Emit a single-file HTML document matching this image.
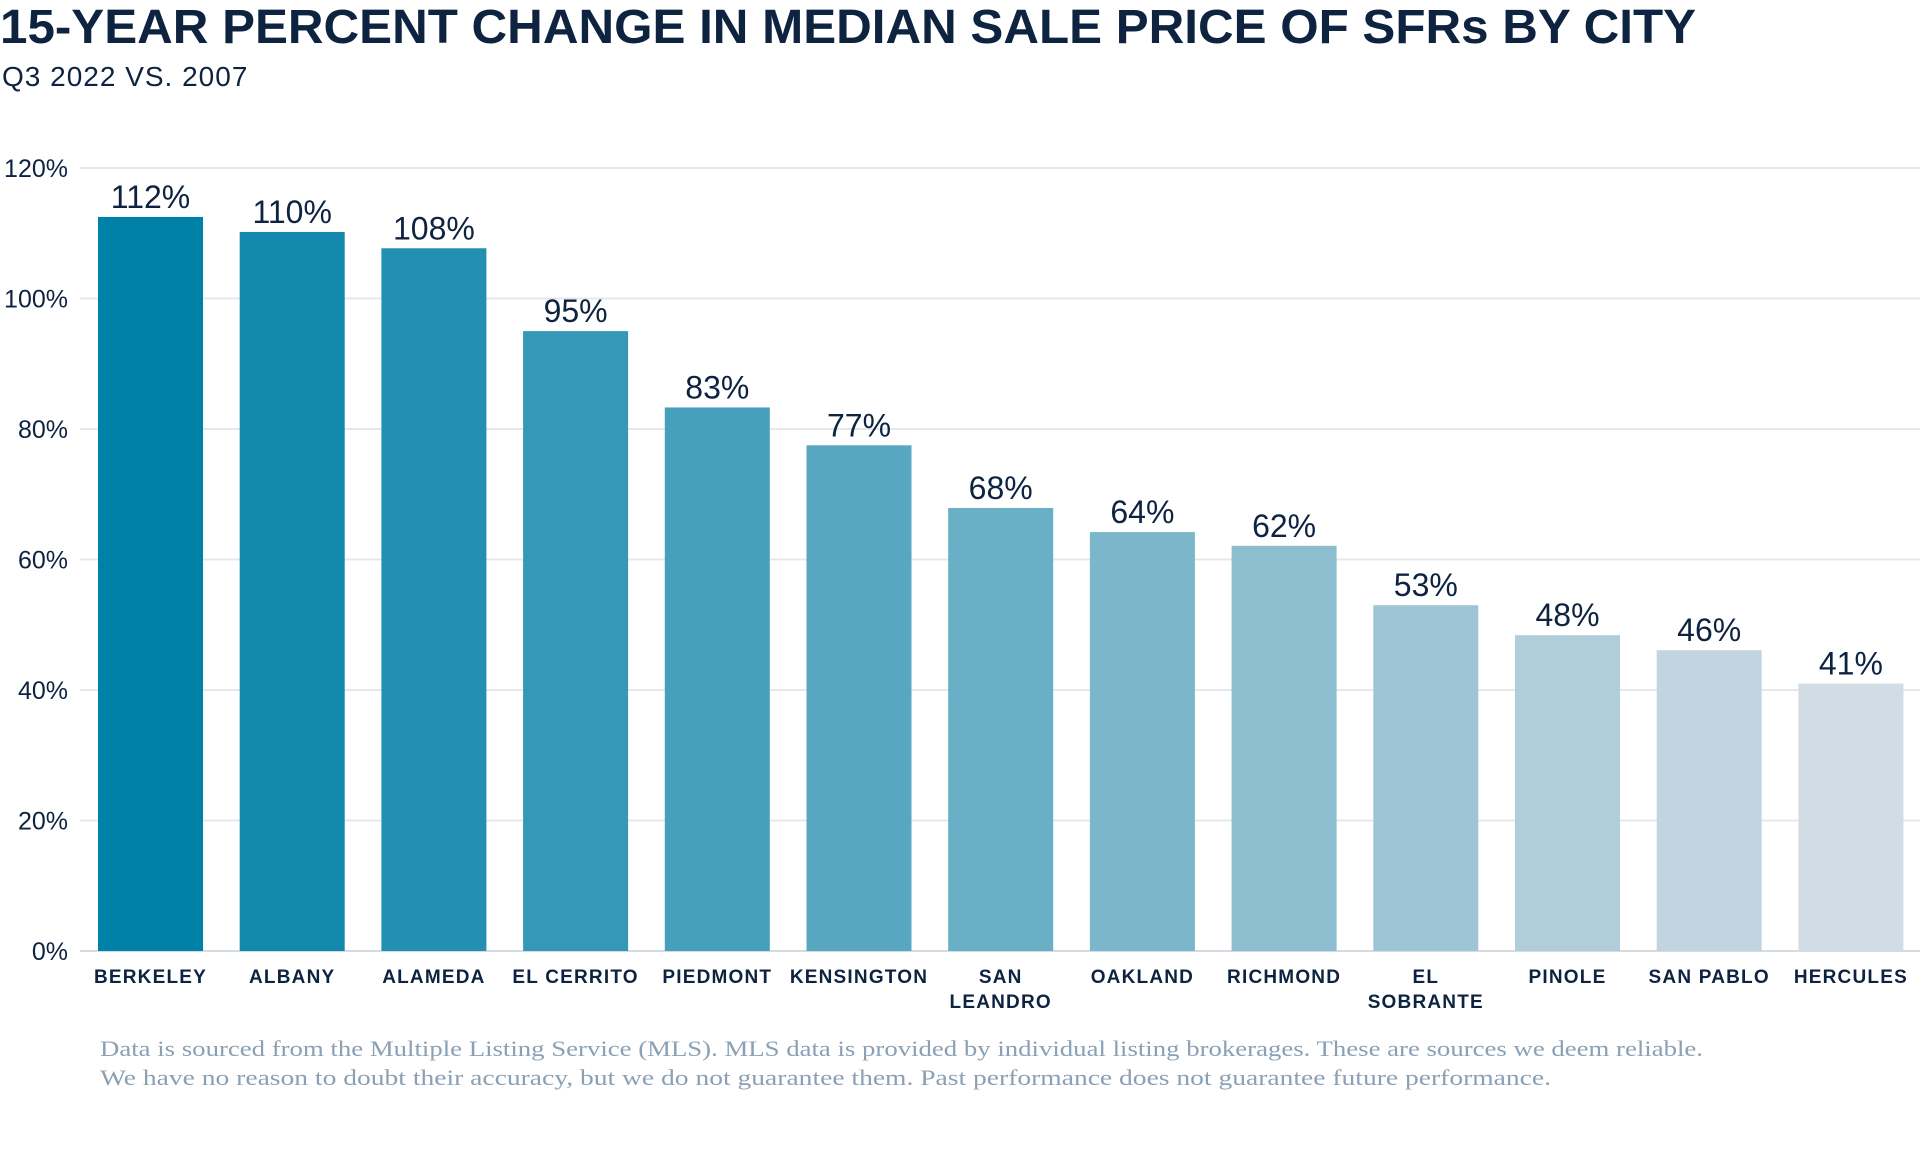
<!DOCTYPE html>
<html><head><meta charset="utf-8"><style>
body{margin:0;width:1920px;height:1148px;background:#fff;overflow:hidden;font-family:"Liberation Sans",sans-serif}
</style></head><body>
<svg id="chart" width="1920" height="1148" xmlns="http://www.w3.org/2000/svg">
<text x="0" y="43" font-family="Liberation Sans, sans-serif" font-size="48" font-weight="bold" fill="#0d2340" textLength="1696" lengthAdjust="spacingAndGlyphs">15-YEAR PERCENT CHANGE IN MEDIAN SALE PRICE OF SFRs BY CITY</text>
<text x="2" y="86" font-family="Liberation Sans, sans-serif" font-size="28" fill="#0d2340" letter-spacing="1">Q3 2022 VS. 2007</text>
<g id="grid"></g><g id="bars"></g>
<text x="100" y="1056" font-family="Liberation Serif, serif" font-size="22" fill="#8aa0b5" textLength="1603" lengthAdjust="spacingAndGlyphs">Data is sourced from the Multiple Listing Service (MLS). MLS data is provided by individual listing brokerages. These are sources we deem reliable.</text>
<text x="100" y="1085" font-family="Liberation Serif, serif" font-size="22" fill="#8aa0b5" textLength="1451" lengthAdjust="spacingAndGlyphs">We have no reason to doubt their accuracy, but we do not guarantee them. Past performance does not guarantee future performance.</text>
</svg>
<script>
const categories=[["BERKELEY"],["ALBANY"],["ALAMEDA"],["EL CERRITO"],["PIEDMONT"],["KENSINGTON"],["SAN","LEANDRO"],["OAKLAND"],["RICHMOND"],["EL","SOBRANTE"],["PINOLE"],["SAN PABLO"],["HERCULES"]];
const values=[112.5,110.2,107.7,95,83.3,77.5,67.9,64.2,62.1,53,48.4,46.1,41];
const labels=["112%","110%","108%","95%","83%","77%","68%","64%","62%","53%","48%","46%","41%"];
const ticks=[0,20,40,60,80,100,120];
const NS="http://www.w3.org/2000/svg";
const y0=951,yTop=168,maxV=120;
function y(v){return y0-(v/maxV)*(y0-yTop);}
const x0=98,pitch=141.7,bw=105;
function x(i){return x0+i*pitch;}
function mk(t,a){const e=document.createElementNS(NS,t);for(const k in a)e.setAttribute(k,a[k]);return e;}
const grid=document.getElementById('grid'),bars=document.getElementById('bars');
ticks.forEach(t=>{
 const l=mk('line',{x1:80,x2:1920,y1:y(t),y2:y(t),stroke:t===0?'#d5dbe2':'#e4e8ed','stroke-width':2});
 
 
 grid.appendChild(l);
 const tx=mk('text',{x:68,y:y(t)+9,'text-anchor':'end','font-size':25,fill:'#0d2340'});
 
 
 tx.textContent=t+'%';grid.appendChild(tx);
});
const c0=[0,129,167],c1=[210,220,228];
values.forEach((v,i)=>{
 const f=i/(values.length-1);
 const c=c0.map((a,k)=>Math.round(a+(c1[k]-a)*f));
 const r=mk('rect',{x:x(i),y:y(v),width:bw,height:y0-y(v),fill:`rgb(${c})`});
 
 
 bars.appendChild(r);
 const vl=mk('text',{x:x(i)+bw/2,y:y(v)-9,'text-anchor':'middle','font-size':32,fill:'#0d2340'});
 
 
 vl.textContent=labels[i];bars.appendChild(vl);
 categories[i].forEach((s,j)=>{
  const cl=mk('text',{x:x(i)+bw/2,y:983+j*25,'text-anchor':'middle','font-size':19,'font-weight':600,fill:'#0d2340','letter-spacing':1.2});
  
  
  cl.textContent=s;bars.appendChild(cl);
 });
});
</script>
</body></html>
